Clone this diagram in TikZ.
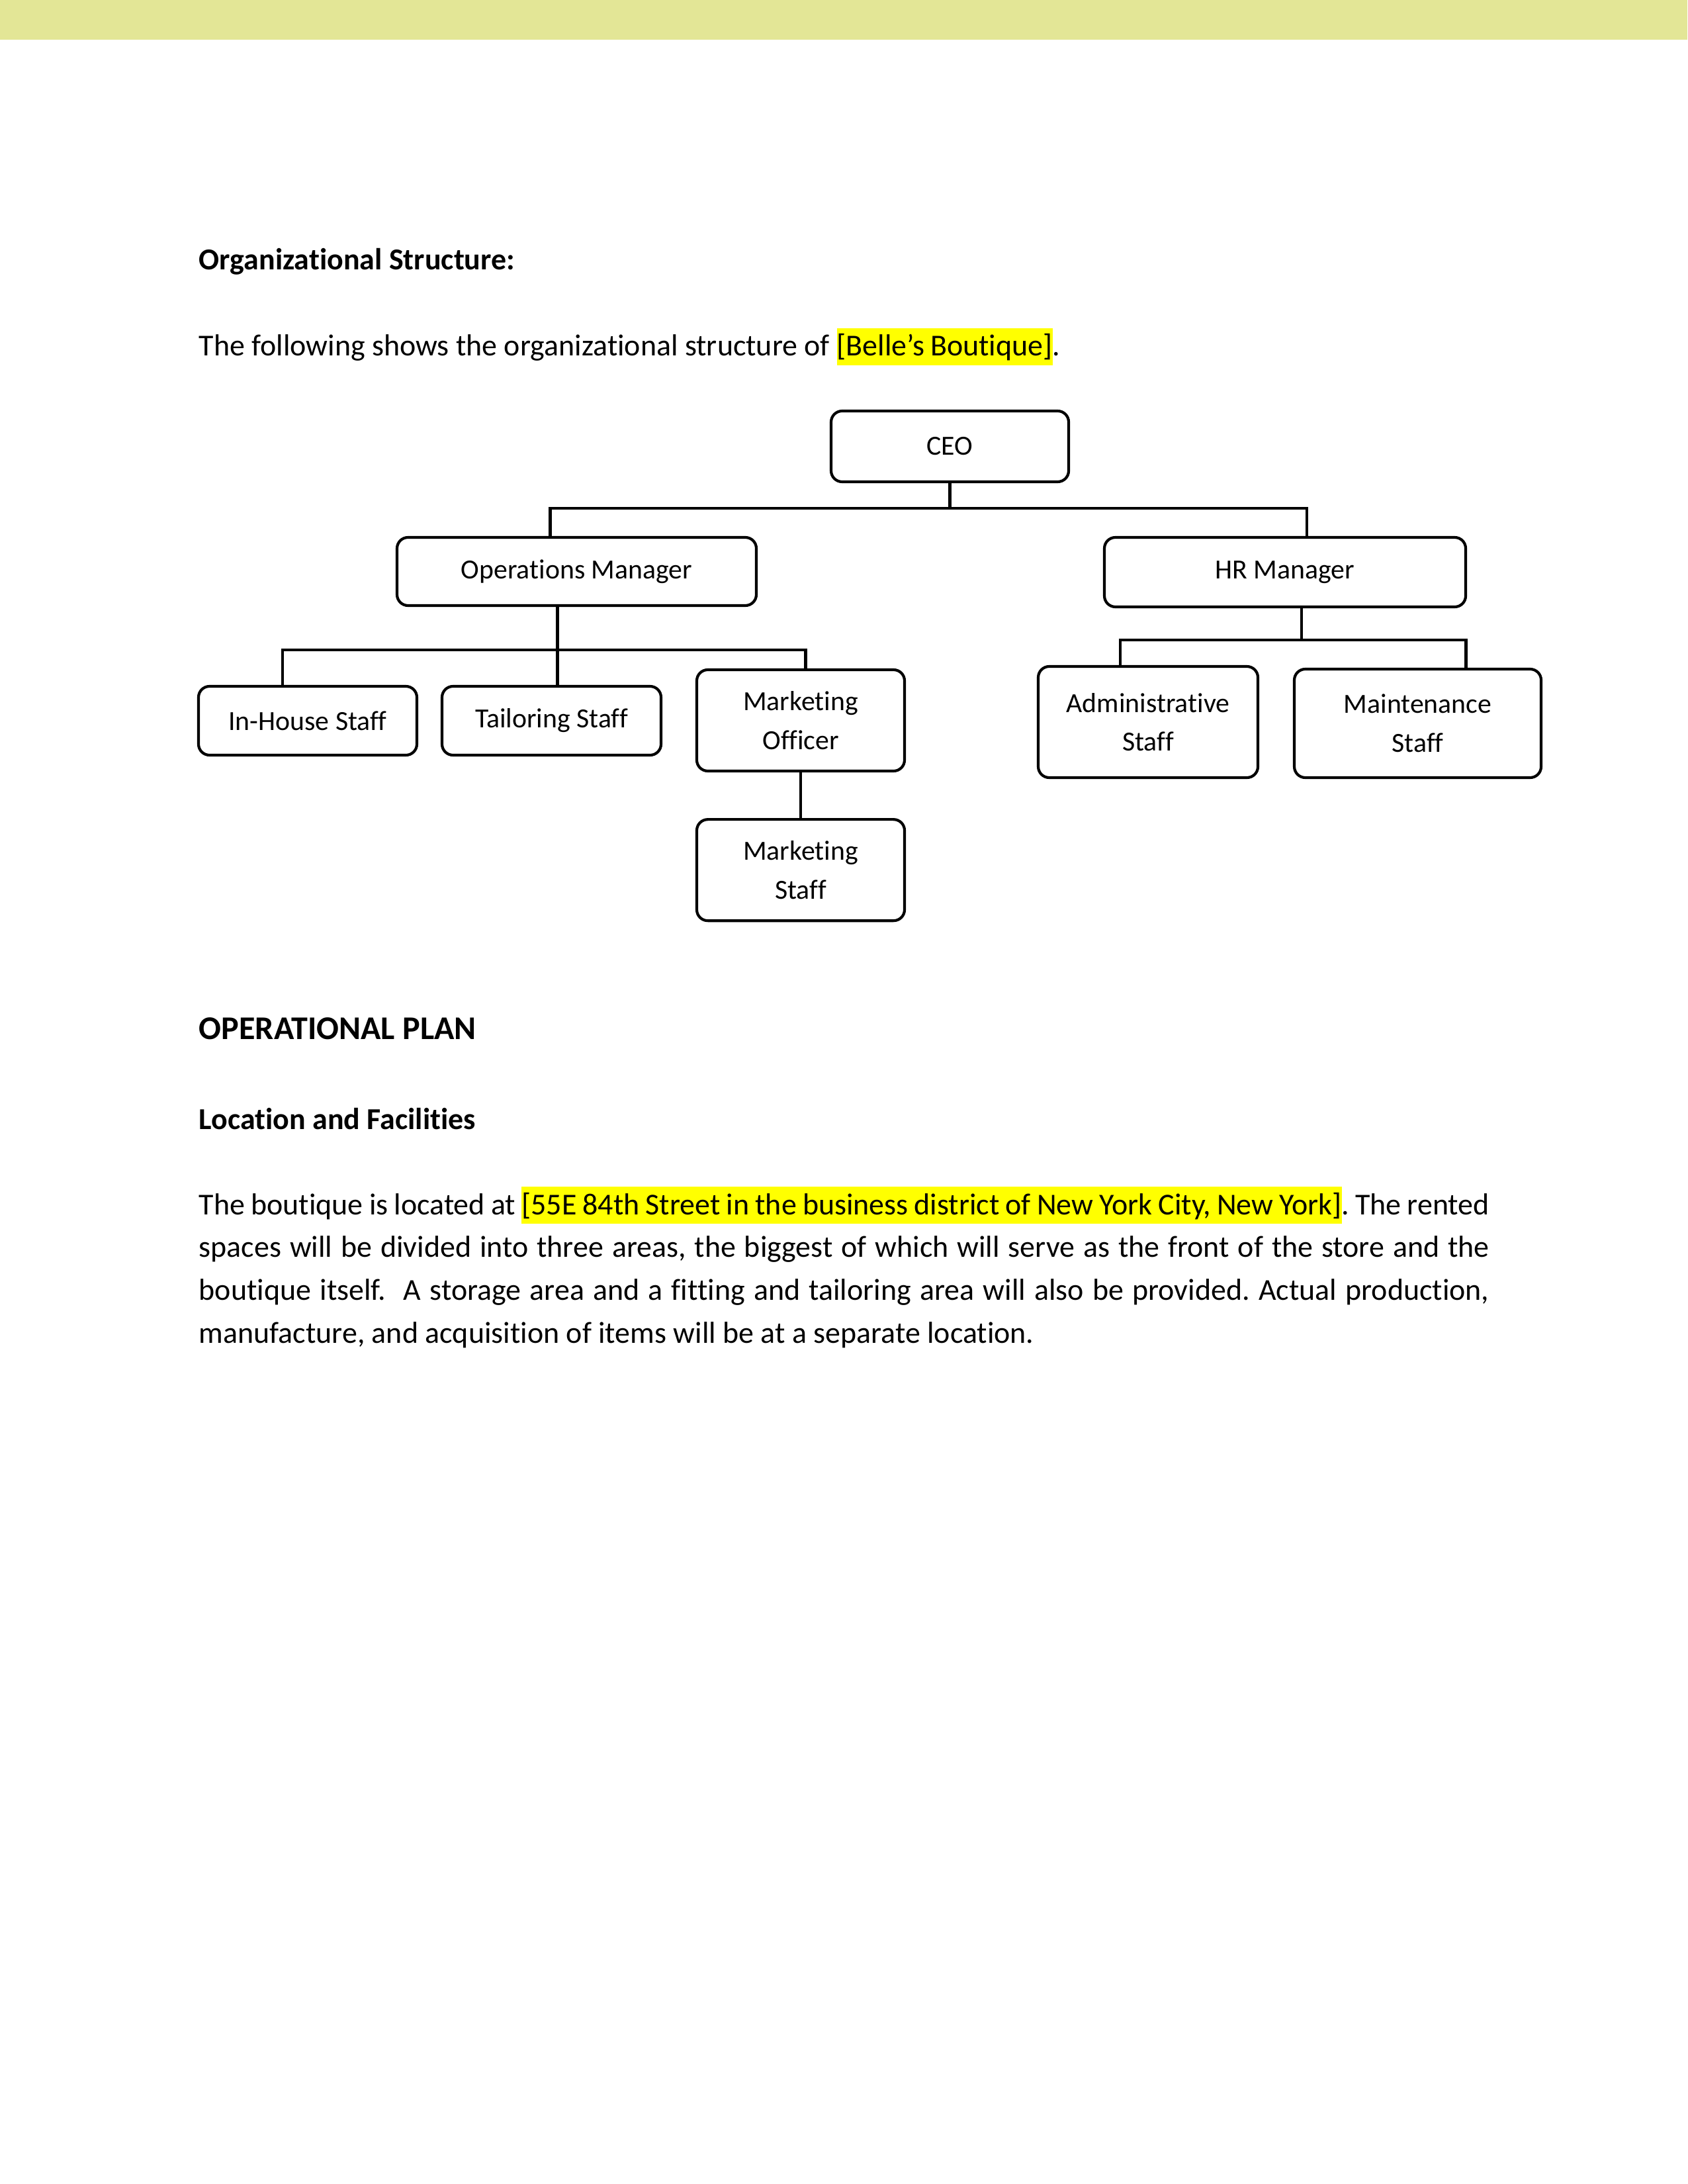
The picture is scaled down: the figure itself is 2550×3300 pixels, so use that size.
\documentclass[tikz,border=0pt]{standalone}
\usepackage{fontspec}
\setmainfont{Carlito}[Ligatures={TeX,NoCommon}]
\usepackage{tikz}
\usetikzlibrary{positioning, calc}
\frenchspacing
\newlength{\px}\setlength{\px}{0.0033333in}
\definecolor{bandgreen}{RGB}{227,230,150}
\definecolor{hlyellow}{RGB}{255,255,0}
\newcommand{\hilite}[1]{{\setlength{\fboxsep}{0pt}\colorbox{hlyellow}{\spaceskip=0.88\fontdimen2\font\rule[-0.31em]{0pt}{1.23em}#1}}}
\tikzset{
    orgbox/.style={rectangle, rounded corners=4pt, draw=black, line width=1pt, align=center, inner sep=0pt, font=\fontsize{10bp}{14bp}\selectfont},
    orgline/.style={draw=black, line width=1pt},
    bodytext/.style={anchor=base west, inner sep=0pt, font=\fontsize{11bp}{15.5bp}\selectfont},
    headtext/.style={bodytext, font=\fontsize{11bp}{15.5bp}\selectfont\bfseries},
}

\begin{document}
\begin{tikzpicture}[x=\px, y=-\px]
\useasboundingbox (0,0) rectangle (2550,3300);
% Header band
\fill[bandgreen] (0,0) rectangle (2550,60);

% Intro text
\node[headtext] (orghead) at (300,408) {Organizational Structure:};
\node[bodytext] (intro) at (300,538) {The following shows the organizational structure of \hilite{[Belle’s Boutique]}.};

% Top level
\node[orgbox, minimum width=359\px, minimum height=107\px] (ceo) at (1435.5,674.5) {CEO};

% Managers
\node[orgbox, minimum width=543\px, minimum height=103\px] (opsmgr) at (871.5,863.5) {Operations Manager};
\node[orgbox, minimum width=546\px, minimum height=105\px] (hrmgr) at (1942,864.5) {HR Manager};

% Operations staff
\node[orgbox, minimum width=330\px, minimum height=104\px] (inhouse) at (465,1089) {In-House Staff};
\node[orgbox, minimum width=331\px, minimum height=104\px] (tailoring) at (833.5,1089) {Tailoring Staff};
\node[orgbox, minimum width=314\px, minimum height=153\px] (mktofficer) at (1210,1088.5) {Marketing\\Officer};
\node[orgbox, minimum width=314\px, minimum height=153\px, below=69\px of mktofficer] (mktstaff) {Marketing\\Staff};

% HR staff
\node[orgbox, minimum width=332\px, minimum height=168\px] (admin) at (1735,1091) {Administrative\\Staff};
\node[orgbox, minimum width=373\px, minimum height=164\px] (maint) at (2142.5,1093) {Maintenance\\Staff};

% CEO branch
\coordinate (ceobar) at ($(ceo.south)+(0,38)$);
\draw[orgline] (ceo.south) -- (ceobar);
\draw[orgline] ($(opsmgr.north)+(-40,0)$) |- (ceobar) -| ($(hrmgr.north)+(33,0)$);

% Operations branch
\coordinate (opsbar) at ($(opsmgr.south)+(-29,65)$);
\draw[orgline] ($(opsmgr.south)+(-29,0)$) -- ($(tailoring.north)+(9,0)$);
\draw[orgline] ($(inhouse.north)+(-38,0)$) |- (opsbar) -| ($(mktofficer.north)+(7.5,0)$);
\draw[orgline] (mktofficer.south) -- (mktstaff.north);

% HR branch
\coordinate (hrbar) at ($(hrmgr.south)+(25,48)$);
\draw[orgline] ($(hrmgr.south)+(25,0)$) -- (hrbar);
\draw[orgline] ($(admin.north)+(-42,0)$) |- (hrbar) -| ($(maint.north)+(73,0)$);

% Operational plan text
\node[headtext, font=\fontsize{12bp}{15.5bp}\selectfont\bfseries] (ophead) at (300,1570) {OPERATIONAL PLAN};
\node[headtext] (lochead) at (300,1706) {Location and Facilities};
\node[bodytext, text width=1950\px, align=justify] (locpara) at (300,1835) {The boutique is located at \hilite{[55E 84th Street in the business district of New York City, New York]}. The rented\linebreak spaces will be divided into three areas, the biggest of which will serve as the front of the store and the\linebreak boutique itself.\ \ A storage area and a fitting and tailoring area will also be provided. Actual production,\linebreak manufacture, and acquisition of items will be at a separate location.};
\end{tikzpicture}
\end{document}
